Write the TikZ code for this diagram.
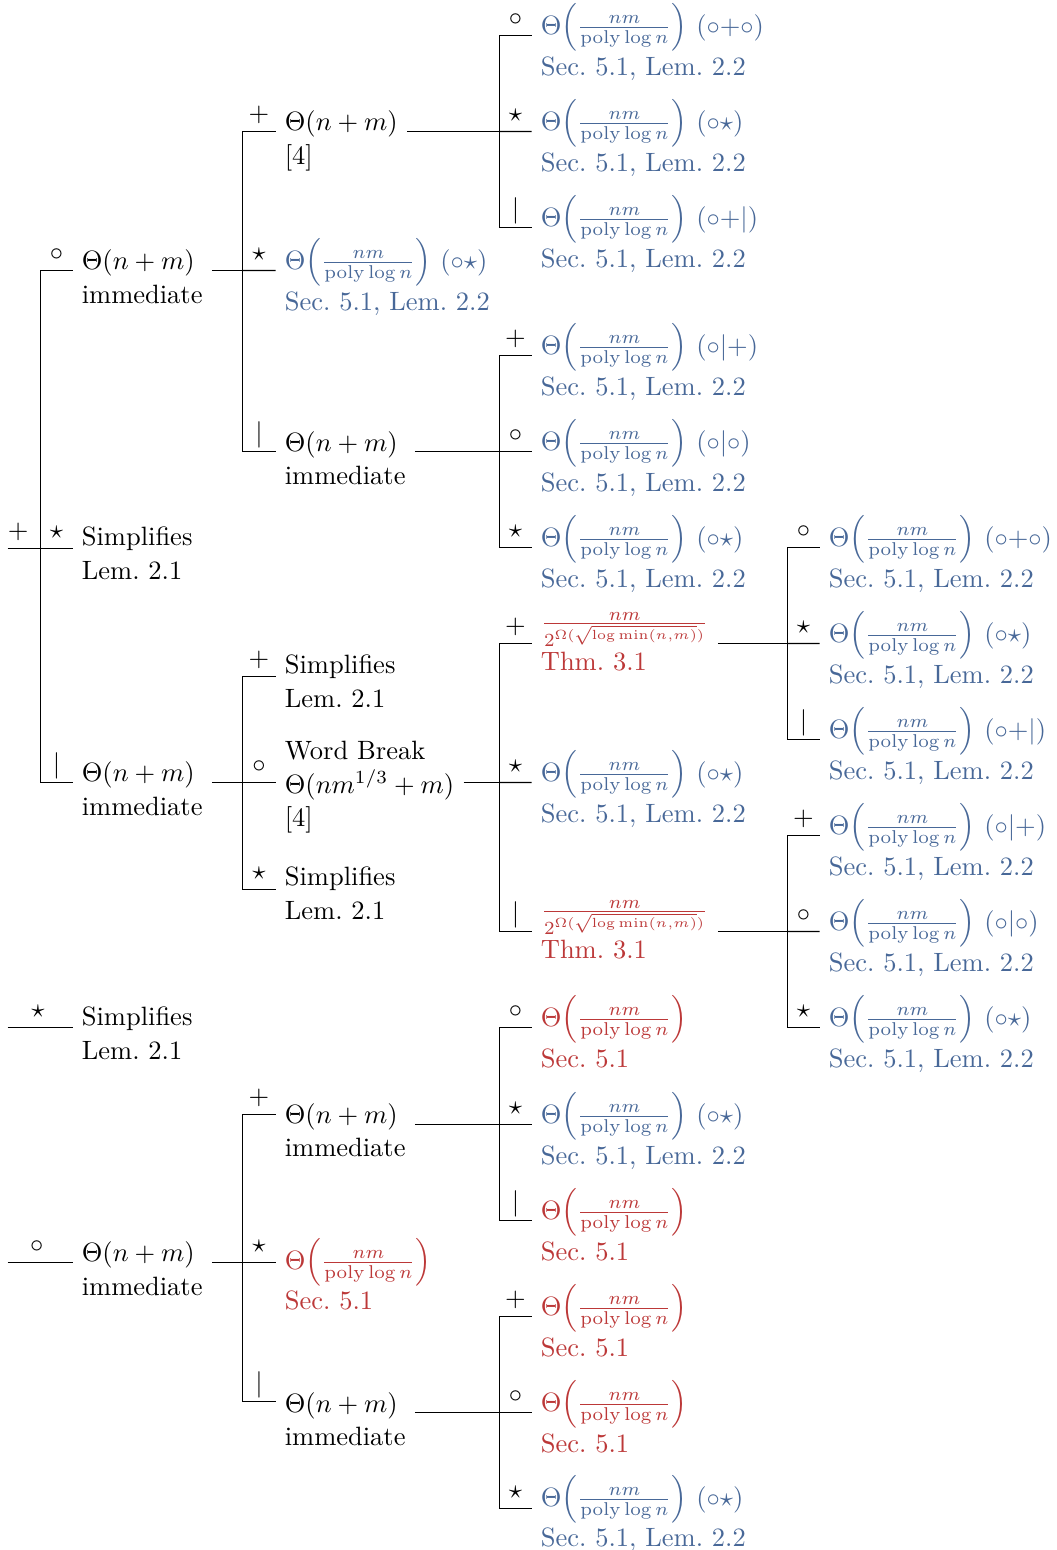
\documentclass[tikz,border=0pt]{standalone}
\usepackage{amsmath}
\definecolor{myblue}{RGB}{72,104,152}
\definecolor{myred}{RGB}{188,56,56}
\def\pu{0.37736pt}
\newcommand\mycell[1]{\begin{tabular}[t]{@{}l@{}}#1\end{tabular}}
\newcommand\thfrac{\Theta\Bigl(\frac{nm}{\operatorname{poly}\log n}\Bigr)}
\newcommand\expfrac{\frac{nm}{2^{\Omega(\sqrt{\log\min(n,m)})}}}
\newcommand\bluenode[1]{\mycell{$\thfrac$ $#1$\\Sec.~5.1, Lem.~2.2}}
\newcommand\rednode{\mycell{$\thfrac$\\Sec.~5.1}}
\newcommand\expnode{\mycell{$\expfrac$\\Thm.~3.1}}
\newcommand\tnm{\mycell{$\Theta(n+m)$\\immediate}}
\newcommand\simpl{\mycell{Simplifies\\Lem.~2.1}}
\begin{document}
\begin{tikzpicture}[x=0.37736pt,y=-0.37736pt,
  every node/.style={font={\fontsize{10}{12.7}\selectfont}},
  nd/.style={anchor=base west},
  bl/.style={nd,text=myblue},
  rd/.style={nd,text=myred},
  lab/.style={pos=.75, anchor=base, yshift=3.6pt, inner sep=0pt, text=black},
  every path/.style={line width=0.4pt}]
\path[use as bounding box] (-0.5,-0.5) rectangle (1056.5,1549.5);

% fork columns and roots
\coordinate (X2) at (242,0);
\coordinate (X3) at (499,0);
\coordinate (X4) at (787,0);
\coordinate (R1) at (7,548);
\coordinate (R2) at (7,1027);
\coordinate (R3) at (7,1262);
\coordinate (P) at (40,548);

% level 1 (placed at first baseline)
\node[nd] (A1) at (72,269) {\tnm};
\node[nd] (A2) at (72,545) {\simpl};
\node[nd] (A3) at (72,781) {\tnm};
\node[nd] (B)  at (72,1025) {\simpl};
\node[nd] (C)  at (72,1261) {\tnm};

% level 2
\node[nd] (A1a) at (275,130) {\mycell{$\Theta(n+m)$\\{[4]}}};
\node[bl] (A1b) at (275,268.8) {\bluenode{(\circ\star)}};
\node[nd] (A1c) at (275,450.7) {\tnm};
\node[nd] (A3a) at (275,673) {\simpl};
\node[nd] (A3b) at (275,759) {\mycell{Word Break\\$\Theta(nm^{1/3}+m)$\\{[4]}}};
\node[nd] (A3c) at (275,885) {\simpl};
\node[nd] (Ca) at (275,1122.7) {\tnm};
\node[rd] (Cb) at (275,1268.6) {\rednode};
\node[nd] (Cc) at (275,1411.7) {\tnm};

% level 3
\node[bl] (L1) at (531,33.8) {\bluenode{(\circ{+}\circ)}};
\node[bl] (L2) at (531,129.8) {\bluenode{(\circ\star)}};
\node[bl] (L3) at (531,225.8) {\bluenode{(\circ{+}|)}};
\node[bl] (L4) at (531,353.8) {\bluenode{(\circ|{+})}};
\node[bl] (L5) at (531,449.8) {\bluenode{(\circ|\circ)}};
\node[bl] (L6) at (531,545.8) {\bluenode{(\circ\star)}};
\node[rd] (L7) at (531,630) {\expnode};
\node[bl] (L8) at (531,780.8) {\bluenode{(\circ\star)}};
\node[rd] (L9) at (531,918) {\expnode};
\node[rd] (L10) at (531,1025.8) {\rednode};
\node[bl] (L11) at (531,1122.8) {\bluenode{(\circ\star)}};
\node[rd] (L12) at (531,1218.8) {\rednode};
\node[rd] (L13) at (531,1314.8) {\rednode};
\node[rd] (L14) at (531,1410.8) {\rednode};
\node[bl] (L15) at (531,1505.6) {\bluenode{(\circ\star)}};

% level 4
\node[bl] (M1) at (819,545.8) {\bluenode{(\circ{+}\circ)}};
\node[bl] (M2) at (819,641.8) {\bluenode{(\circ\star)}};
\node[bl] (M3) at (819,737.8) {\bluenode{(\circ{+}|)}};
\node[bl] (M4) at (819,833.8) {\bluenode{(\circ|{+})}};
\node[bl] (M5) at (819,929.8) {\bluenode{(\circ|\circ)}};
\node[bl] (M6) at (819,1025.8) {\bluenode{(\circ\star)}};

% root edges
\draw (R1) -- node[lab,pos=.32]{$+$} (P);
\draw (P) |- node[lab]{$\circ$} ([yshift=-1*\pu]A1.base west);
\draw (P) -- node[lab,pos=.5]{$\star$} ([yshift=-3*\pu]A2.base west);
\draw (P) |- node[lab]{$|$} ([yshift=-1*\pu]A3.base west);
\draw (R2) -- node[lab,pos=.47]{$\star$} ([yshift=-2*\pu]B.base west);
\draw (R3) -- node[lab,pos=.45]{$\circ$} ([yshift=-1*\pu]C.base west);

% A1
\draw ([yshift=-1*\pu]A1.base east) -- ([yshift=-1*\pu]A1.base east -| X2) coordinate (fA1);
\draw (fA1) |- node[lab]{$+$} ([yshift=-1*\pu]A1a.base west);
\draw (fA1) -- node[lab,pos=.5]{$\star$} ([yshift=-1.2*\pu]A1b.base west);
\draw (fA1) |- node[lab]{$|$} ([yshift=-0.3*\pu]A1c.base west);
% A3
\draw ([yshift=-1*\pu]A3.base east) -- ([yshift=-1*\pu]A3.base east -| X2) coordinate (fA3);
\draw (fA3) |- node[lab]{$+$} ([yshift=-3*\pu]A3a.base west);
\draw (fA3) -- node[lab,pos=.5]{$\circ$} ([yshift=-23*\pu]A3b.base west);
\draw (fA3) |- node[lab]{$\star$} ([yshift=-4*\pu]A3c.base west);
% C
\draw ([yshift=-1*\pu]C.base east) -- ([yshift=-1*\pu]C.base east -| X2) coordinate (fC);
\draw (fC) |- node[lab]{$+$} ([yshift=8.7*\pu]Ca.base west);
\draw (fC) -- node[lab,pos=.5]{$\star$} ([yshift=6.6*\pu]Cb.base west);
\draw (fC) |- node[lab]{$|$} ([yshift=10.7*\pu]Cc.base west);
% A1a
\draw ([yshift=-1*\pu]A1a.base east) -- ([yshift=-1*\pu]A1a.base east -| X3) coordinate (fA1a);
\draw (fA1a) |- node[lab]{$\circ$} ([yshift=-1.2*\pu]L1.base west);
\draw (fA1a) -- node[lab,pos=.5]{$\star$} ([yshift=-1.2*\pu]L2.base west);
\draw (fA1a) |- node[lab]{$|$} ([yshift=-1.2*\pu]L3.base west);
% A1c
\draw ([yshift=-0.3*\pu]A1c.base east) -- ([yshift=-0.3*\pu]A1c.base east -| X3) coordinate (fA1c);
\draw (fA1c) |- node[lab]{$+$} ([yshift=-1.2*\pu]L4.base west);
\draw (fA1c) -- node[lab,pos=.5]{$\circ$} ([yshift=-1.2*\pu]L5.base west);
\draw (fA1c) |- node[lab]{$\star$} ([yshift=-1.2*\pu]L6.base west);
% A3b
\draw ([yshift=-23*\pu]A3b.base east) -- ([yshift=-23*\pu]A3b.base east -| X3) coordinate (fA3b);
\draw (fA3b) |- node[lab]{$+$} ([yshift=-13*\pu]L7.base west);
\draw (fA3b) -- node[lab,pos=.5]{$\star$} ([yshift=-1.2*\pu]L8.base west);
\draw (fA3b) |- node[lab]{$|$} ([yshift=-13*\pu]L9.base west);
% Ca
\draw ([yshift=-1.3*\pu]Ca.base east) -- ([yshift=-1.3*\pu]Ca.base east -| X3) coordinate (fCa);
\draw (fCa) |- node[lab]{$\circ$} ([yshift=-1.2*\pu]L10.base west);
\draw (fCa) -- node[lab,pos=.5]{$\star$} ([yshift=-1.2*\pu]L11.base west);
\draw (fCa) |- node[lab]{$|$} ([yshift=-1.2*\pu]L12.base west);
% Cc
\draw ([yshift=-0.3*\pu]Cc.base east) -- ([yshift=-0.3*\pu]Cc.base east -| X3) coordinate (fCc);
\draw (fCc) |- node[lab]{$+$} ([yshift=-1.2*\pu]L13.base west);
\draw (fCc) -- node[lab,pos=.5]{$\circ$} ([yshift=-1.2*\pu]L14.base west);
\draw (fCc) |- node[lab]{$\star$} ([yshift=-2.4*\pu]L15.base west);
% L7
\draw ([yshift=-13*\pu]L7.base east) -- ([yshift=-13*\pu]L7.base east -| X4) coordinate (fL7);
\draw (fL7) |- node[lab]{$\circ$} ([yshift=-1.2*\pu]M1.base west);
\draw (fL7) -- node[lab,pos=.5]{$\star$} ([yshift=-1.2*\pu]M2.base west);
\draw (fL7) |- node[lab]{$|$} ([yshift=-1.2*\pu]M3.base west);
% L9
\draw ([yshift=-13*\pu]L9.base east) -- ([yshift=-13*\pu]L9.base east -| X4) coordinate (fL9);
\draw (fL9) |- node[lab]{$+$} ([yshift=-1.2*\pu]M4.base west);
\draw (fL9) -- node[lab,pos=.5]{$\circ$} ([yshift=-1.2*\pu]M5.base west);
\draw (fL9) |- node[lab]{$\star$} ([yshift=-1.2*\pu]M6.base west);
\end{tikzpicture}
\end{document}
